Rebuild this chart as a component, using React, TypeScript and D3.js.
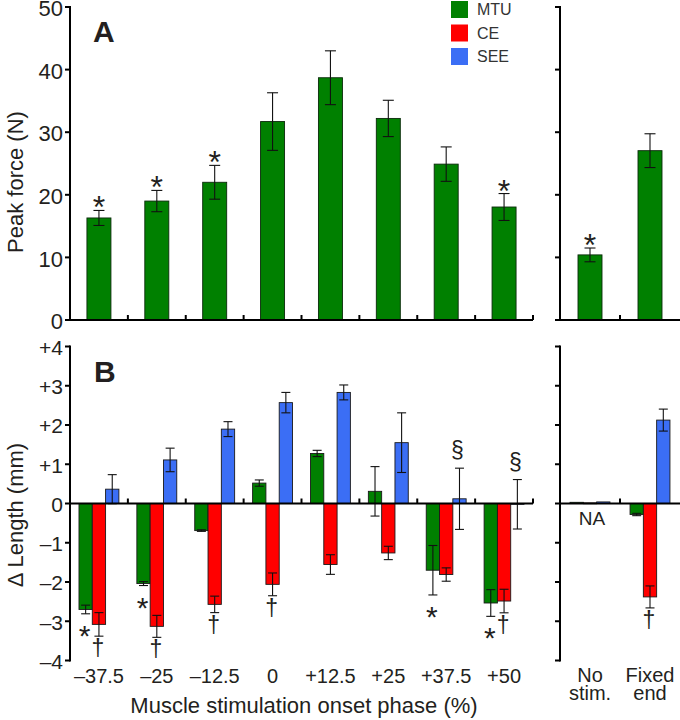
import React from "react";
import * as d3 from "d3";

const phases = ["–37.5", "–25", "–12.5", "0", "+12.5", "+25", "+37.5", "+50"];
const controls = ["No stim.", "Fixed end"];
const controlLines = [["No", "stim."], ["Fixed", "end"]];

const forceMean = [16.3, 19.0, 22.0, 31.7, 38.7, 32.2, 24.9, 18.05];
const forceErr = [1.2, 1.7, 2.7, 4.6, 4.3, 2.9, 2.75, 2.15];
const forceMark = ["*", "*", "*", "", "", "", "", "*"];
const controlForceMean = [10.4, 27.05];
const controlForceErr = [1.1, 2.7];
const controlForceMark = ["*", ""];

const mtuLen = [-2.7, -2.04, -0.69, 0.52, 1.275, 0.31, -1.7, -2.535];
const mtuErr = [0.11, 0.05, 0.02, 0.08, 0.08, 0.63, 0.63, 0.34];
const mtuMark = ["*", "*", "", "", "", "", "*", "*"];
const ceLen = [-3.08, -3.13, -2.57, -2.06, -1.555, -1.26, -1.81, -2.485];
const ceErr = [0.3, 0.28, 0.21, 0.29, 0.25, 0.17, 0.17, 0.3];
const ceMark = ["†", "†", "†", "†", "", "", "", "†"];
const seeLen = [0.365, 1.11, 1.895, 2.57, 2.83, 1.55, 0.12, -0.02];
const seeErr = [0.37, 0.3, 0.19, 0.26, 0.19, 0.76, 0.78, 0.63];
const seeMark = ["", "", "", "", "", "", "§", "§"];

const controlMtuLen = [0.03, -0.28];
const controlMtuErr = [0, 0.03];
const controlCeLen = [0.015, -2.38];
const controlCeErr = [0, 0.28];
const controlSeeLen = [0.04, 2.125];
const controlSeeErr = [0, 0.28];
const controlCeMark = ["", "†"];

const forceTicks = [0, 10, 20, 30, 40, 50];
const lengthTicks = [-4, -3, -2, -1, 0, 1, 2, 3, 4];
const lengthTickLabels = ["–4", "–3", "–2", "–1", "0", "+1", "+2", "+3", "+4"];

const seriesNames = ["MTU", "CE", "SEE"];
const colors = ["#008000", "#ff0000", "#3b6ef5"];

const FONT = "Liberation Sans, Arial, Helvetica, sans-serif";
const TXT = "#231f20";

export default function App() {
  const W = 680, H = 720;
  const xL = d3.scaleBand<string>().domain(phases).range([70, 533]).paddingInner(0).paddingOuter(0);
  const xR = d3.scaleBand<string>().domain(controls).range([560, 680]).paddingInner(0).paddingOuter(0);
  const yA = d3.scaleLinear().domain([0, 50]).range([320, 7]);
  const yB = d3.scaleLinear().domain([-4, 4]).range([660.5, 346.5]);

  const barA = 24;
  const barB = 13.3;

  const errBar = (x: number, y0: number, y1: number, cap: number, key: string) => (
    <g key={key} stroke="#111" strokeWidth={1.1}>
      <line x1={x} x2={x} y1={y0} y2={y1} />
      <line x1={x - cap / 2} x2={x + cap / 2} y1={y0} y2={y0} />
      <line x1={x - cap / 2} x2={x + cap / 2} y1={y1} y2={y1} />
    </g>
  );

  const panelABars = (cats: string[], xs: d3.ScaleBand<string>, means: number[], errs: number[], marks: string[], pre: string) =>
    cats.map((c, i) => {
      const cx = (xs(c) as number) + xs.bandwidth() / 2;
      const top = yA(means[i]);
      const eTop = yA(means[i] + errs[i]);
      const eBot = yA(means[i] - errs[i]);
      return (
        <g key={pre + i}>
          <rect x={cx - barA / 2} y={top} width={barA} height={yA(0) - top} fill={colors[0]} stroke="#0b2a0b" strokeWidth={0.9} />
          {errBar(cx, eTop, eBot, 11, pre + "e" + i)}
          {marks[i] ? (
            <text x={cx} y={eTop + 8} textAnchor="middle" fontSize={32} fontFamily={FONT} fill={TXT}>{marks[i]}</text>
          ) : null}
        </g>
      );
    });

  const panelBBars = (
    cats: string[], xs: d3.ScaleBand<string>,
    vals: number[][], errs: number[][], marks: string[][], pre: string
  ) =>
    cats.map((c, i) => {
      const cx = (xs(c) as number) + xs.bandwidth() / 2;
      return (
        <g key={pre + i}>
          {vals.map((arr, s) => {
            const v = arr[i];
            const e = errs[s][i];
            const bx = cx + (s - 1) * barB;
            const y0 = yB(Math.max(0, v));
            const y1 = yB(Math.min(0, v));
            const eTop = yB(v + e);
            const eBot = yB(v - e);
            const m = marks[s][i];
            let mark = null;
            if (m === "*") {
              mark = <text x={bx - 1} y={eBot + 32} textAnchor="middle" fontSize={30} fontFamily={FONT} fill={TXT}>*</text>;
            } else if (m === "†") {
              mark = <text x={bx - 1} y={eBot + 20} textAnchor="middle" fontSize={23} fontFamily={FONT} fill={TXT}>†</text>;
            } else if (m === "§") {
              mark = <text x={bx - 2} y={eTop - 10} textAnchor="middle" fontSize={23} fontFamily={FONT} fill={TXT}>§</text>;
            }
            return (
              <g key={s}>
                <rect x={bx - barB / 2} y={y0} width={barB} height={Math.max(0.8, y1 - y0)} fill={colors[s]} stroke="#1a1a1a" strokeWidth={0.9} />
                {e > 0 ? errBar(bx, eTop, eBot, 9, "e" + s) : null}
                {mark}
              </g>
            );
          })}
        </g>
      );
    });

  const leftBounds = phases.map((p) => (xL(p) as number) + xL.bandwidth()).slice(0, -1).concat([533]);

  return (
    <svg width={W} height={H} style={{ position: "absolute", left: 0, top: 0 }} fontFamily={FONT}>
      <rect x={0} y={0} width={W} height={H} fill="#fff" />

      {/* Panel A bars */}
      {panelABars(phases, xL, forceMean, forceErr, forceMark, "aL")}
      {panelABars(controls, xR, controlForceMean, controlForceErr, controlForceMark, "aR")}

      {/* Panel A axes */}
      <g stroke="#000" strokeWidth={2} fill="none">
        <line x1={70} x2={70} y1={yA(50) - 1} y2={yA(0) + 1} />
        <line x1={69} x2={533} y1={yA(0)} y2={yA(0)} />
        <line x1={560} x2={560} y1={yA(50) - 1} y2={yA(0) + 1} />
        <line x1={559} x2={680} y1={yA(0)} y2={yA(0)} />
        {forceTicks.map((t) => (
          <g key={"ta" + t}>
            <line x1={65} x2={70} y1={yA(t)} y2={yA(t)} />
            <line x1={555} x2={560} y1={yA(t)} y2={yA(t)} />
          </g>
        ))}
        {leftBounds.map((b, i) => (
          <line key={"ba" + i} x1={b} x2={b} y1={yA(0)} y2={yA(0) - 5} />
        ))}
        <line x1={620} x2={620} y1={yA(0)} y2={yA(0) - 5} />
      </g>
      {forceTicks.map((t) => (
        <text key={"tla" + t} x={63} y={yA(t)} dy="0.42em" textAnchor="end" fontSize={22} fill={TXT}>{t}</text>
      ))}

      {/* Panel B bars */}
      {panelBBars(phases, xL, [mtuLen, ceLen, seeLen], [mtuErr, ceErr, seeErr], [mtuMark, ceMark, seeMark], "bL")}
      {panelBBars(controls, xR, [controlMtuLen, controlCeLen, controlSeeLen], [controlMtuErr, controlCeErr, controlSeeErr], [["", ""], controlCeMark, ["", ""]], "bR")}

      {/* Panel B axes */}
      <g stroke="#000" strokeWidth={2} fill="none">
        <line x1={70} x2={70} y1={yB(4) - 1} y2={yB(-4) + 1} />
        <line x1={69} x2={533} y1={yB(0)} y2={yB(0)} />
        <line x1={560} x2={560} y1={yB(4) - 1} y2={yB(-4) + 1} />
        <line x1={559} x2={680} y1={yB(0)} y2={yB(0)} />
        {lengthTicks.map((t) => (
          <g key={"tb" + t}>
            <line x1={65} x2={70} y1={yB(t)} y2={yB(t)} />
            <line x1={555} x2={560} y1={yB(t)} y2={yB(t)} />
          </g>
        ))}
        {leftBounds.map((b, i) => (
          <line key={"bb" + i} x1={b} x2={b} y1={yB(0)} y2={yB(0) - 5} />
        ))}
        <line x1={620} x2={620} y1={yB(0)} y2={yB(0) - 5} />
      </g>
      {lengthTicks.map((t, i) => (
        <text key={"tlb" + t} x={63} y={yB(t)} dy="0.4em" textAnchor="end" fontSize={21} fill={TXT}>{lengthTickLabels[i]}</text>
      ))}

      {/* NA label */}
      <text x={(xR("No stim.") as number) + xR.bandwidth() / 2 + 2} y={525} textAnchor="middle" fontSize={19} fill={TXT}>NA</text>

      {/* Panel letters */}
      <text x={93} y={42} fontSize={30} fontWeight="bold" fill={TXT}>A</text>
      <text x={94} y={382} fontSize={30} fontWeight="bold" fill={TXT}>B</text>

      {/* Legend */}
      {seriesNames.map((n, i) => (
        <g key={"lg" + n}>
          <rect x={451} y={1 + i * 23.5} width={17} height={17} fill={colors[i]} />
          <text x={477} y={15 + i * 23.5} fontSize={16} fill="#333">{n}</text>
        </g>
      ))}

      {/* X tick labels */}
      {phases.map((p) => (
        <text key={"xl" + p} x={(xL(p) as number) + xL.bandwidth() / 2} y={683} textAnchor="middle" fontSize={20} fill={TXT}>{p}</text>
      ))}
      {controls.map((c, i) => (
        <g key={"xc" + c}>
          <text x={(xR(c) as number) + xR.bandwidth() / 2} y={682} textAnchor="middle" fontSize={20} fill={TXT}>{controlLines[i][0]}</text>
          <text x={(xR(c) as number) + xR.bandwidth() / 2} y={700} textAnchor="middle" fontSize={20} fill={TXT}>{controlLines[i][1]}</text>
        </g>
      ))}

      {/* Axis titles */}
      <text x={304} y={713} textAnchor="middle" fontSize={22} fill={TXT}>Muscle stimulation onset phase (%)</text>
      <text transform="translate(23,182) rotate(-90)" textAnchor="middle" fontSize={22} fill={TXT}>Peak force (N)</text>
      <text transform="translate(23,515) rotate(-90)" textAnchor="middle" fontSize={22} fill={TXT}>Δ Length (mm)</text>
    </svg>
  );
}
